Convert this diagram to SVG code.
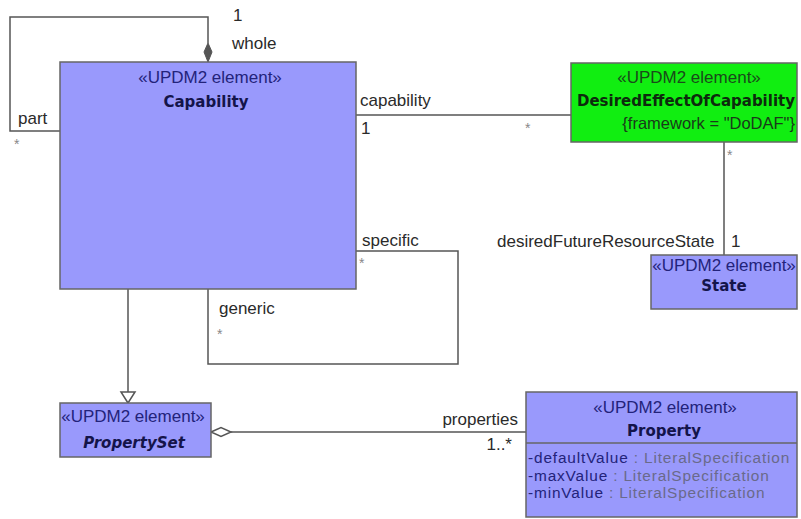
<svg xmlns="http://www.w3.org/2000/svg" width="801" height="519" viewBox="0 0 801 519">
<style>
.box{fill:#9999fc;stroke:#666;stroke-width:1.5}
.green{fill:#11ee11;stroke:#666;stroke-width:1.5}
.st{font-family:"Liberation Sans",Arial,sans-serif;font-size:17px;fill:#23237a;text-anchor:middle}
.nm{font-family:"DejaVu Sans",Verdana,sans-serif;font-size:15px;font-weight:bold;fill:#14144a;text-anchor:middle}
.lbl{font-family:"Liberation Sans",Arial,sans-serif;font-size:17px;fill:#2a2a2a}
.star{font-family:"Liberation Sans",Arial,sans-serif;font-size:14px;fill:#888}
.attr{font-family:"Liberation Sans",Arial,sans-serif;font-size:15.4px;letter-spacing:0.85px;fill:#23237a}
.ty{fill:#6a6a8a}
.ln{fill:none;stroke:#555;stroke-width:1.5}
</style>
<rect width="801" height="519" fill="#fff"/>
<g id="connectors">
  <polyline class="ln" points="60,131 10,131 10,17 208,17 208,43"/>
  <polygon points="208,43 212,52 208,62 204,52" fill="#555" stroke="#555" stroke-width="1"/>
  <line class="ln" x1="356" y1="115" x2="571" y2="115"/>
  <line class="ln" x1="724" y1="142" x2="724" y2="255"/>
  <polyline class="ln" points="356,251 458,251 458,364 208,364 208,289"/>
  <line class="ln" x1="128" y1="289" x2="128" y2="392"/>
  <polygon points="121,392 135,392 128,403" fill="#fff" stroke="#555" stroke-width="1.5"/>
  <line class="ln" x1="231" y1="432" x2="526" y2="432"/>
  <polygon points="211,432 221,427.5 231,432 221,436.5" fill="#fff" stroke="#555" stroke-width="1.5"/>
  <text class="lbl" x="233" y="21">1</text>
  <text class="lbl" x="232" y="49">whole</text>
  <text class="lbl" x="18" y="124">part</text>
  <text class="star" x="14" y="149">*</text>
  <text class="lbl" x="360" y="106">capability</text>
  <text class="lbl" x="361" y="134">1</text>
  <text class="star" x="525" y="133">*</text>
  <text class="star" x="727" y="160">*</text>
  <text class="lbl" x="497" y="247">desiredFutureResourceState</text>
  <text class="lbl" x="731" y="247">1</text>
  <text class="lbl" x="362" y="246">specific</text>
  <text class="star" x="359" y="268">*</text>
  <text class="lbl" x="219" y="314">generic</text>
  <text class="star" x="217" y="339">*</text>
  <text class="lbl" x="518" y="425" text-anchor="end">properties</text>
  <text class="lbl" x="512" y="450" text-anchor="end">1..*</text>
</g>
<g id="capability">
  <rect class="box" x="60" y="62" width="296" height="227"/>
  <text class="st" x="210" y="83">«UPDM2 element»</text>
  <text class="nm" x="206" y="107">Capability</text>
</g>
<g id="desiredEffectOfCapability">
  <rect class="green" x="571" y="63" width="226" height="79"/>
  <text class="st" x="689" y="83" style="fill:#1a4a1a">«UPDM2 element»</text>
  <text class="nm" x="686" y="106" style="fill:#0d2a0d">DesiredEffectOfCapability</text>
  <text class="lbl" x="795" y="129" text-anchor="end" style="fill:#1a3a1a;font-size:16.5px">{framework = "DoDAF"}</text>
</g>
<g id="state">
  <rect class="box" x="651" y="255" width="146" height="54"/>
  <text class="st" x="724" y="271">«UPDM2 element»</text>
  <text class="nm" x="724" y="291">State</text>
</g>
<g id="propertySet">
  <rect class="box" x="60" y="403" width="151" height="54"/>
  <text class="st" x="133" y="422">«UPDM2 element»</text>
  <text class="nm" x="134" y="448" font-style="italic">PropertySet</text>
</g>
<g id="property">
  <rect class="box" x="526" y="392" width="271" height="125"/>
  <line x1="526" y1="443" x2="797" y2="443" stroke="#666" stroke-width="1.5"/>
  <text class="st" x="665" y="413">«UPDM2 element»</text>
  <text class="nm" x="664" y="436">Property</text>
  <text class="attr" x="528" y="463">-defaultValue<tspan class="ty"> : LiteralSpecification</tspan></text>
  <text class="attr" x="528" y="480.5">-maxValue<tspan class="ty"> : LiteralSpecification</tspan></text>
  <text class="attr" x="528" y="498">-minValue<tspan class="ty"> : LiteralSpecification</tspan></text>
</g>
</svg>
